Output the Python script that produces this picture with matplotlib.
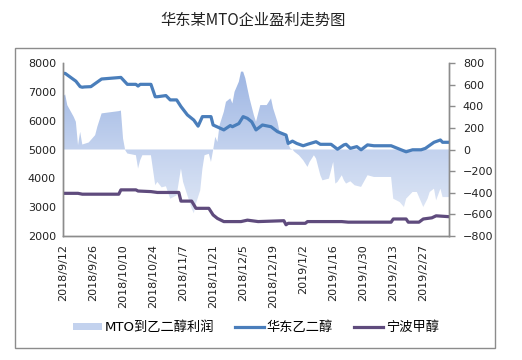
import matplotlib
matplotlib.use("Agg")
import matplotlib.pyplot as plt
import matplotlib.dates as mdates
import numpy as np
import pandas as pd
from matplotlib.patches import Rectangle, Patch
from matplotlib.lines import Line2D

CJK = ["Noto Sans CJK SC", "DejaVu Sans"]
LATIN_FIRST = ["DejaVu Sans", "Noto Sans CJK SC"]

# MTO到乙二醇利润 (right axis, 元/吨)
profit_dates = [
    "2018-09-12", "2018-09-13", "2018-09-14", "2018-09-17", "2018-09-18", "2018-09-19",
    "2018-09-20", "2018-09-21", "2018-09-24", "2018-09-27", "2018-09-28", "2018-09-30",
    "2018-10-08", "2018-10-09", "2018-10-10", "2018-10-11", "2018-10-12", "2018-10-16",
    "2018-10-17", "2018-10-18", "2018-10-19", "2018-10-23", "2018-10-25", "2018-10-26",
    "2018-10-28", "2018-10-30", "2018-11-01", "2018-11-04", "2018-11-06", "2018-11-07",
    "2018-11-09", "2018-11-11", "2018-11-12", "2018-11-13", "2018-11-15", "2018-11-16",
    "2018-11-17", "2018-11-19", "2018-11-20", "2018-11-21", "2018-11-22", "2018-11-23",
    "2018-11-24", "2018-11-26", "2018-11-27", "2018-11-29", "2018-11-30", "2018-12-01",
    "2018-12-03", "2018-12-04", "2018-12-05", "2018-12-06", "2018-12-07", "2018-12-08",
    "2018-12-10", "2018-12-11", "2018-12-12", "2018-12-13", "2018-12-16", "2018-12-18",
    "2018-12-19", "2018-12-21", "2018-12-22", "2018-12-24", "2018-12-26", "2018-12-27",
    "2018-12-28", "2018-12-29", "2018-12-31", "2019-01-02", "2019-01-04", "2019-01-05",
    "2019-01-07", "2019-01-08", "2019-01-10", "2019-01-11", "2019-01-14", "2019-01-15",
    "2019-01-16", "2019-01-17", "2019-01-18", "2019-01-20", "2019-01-21", "2019-01-22",
    "2019-01-24", "2019-01-26", "2019-01-29", "2019-02-01", "2019-02-04", "2019-02-12",
    "2019-02-13", "2019-02-16", "2019-02-18", "2019-02-19", "2019-02-22", "2019-02-24",
    "2019-02-27", "2019-03-01", "2019-03-02", "2019-03-04", "2019-03-05", "2019-03-07",
    "2019-03-08", "2019-03-11",
]
profit = [
    488, 510, 410, 302, 256, 40,
    163, 46, 65, 133, 210, 334,
    355, 360, 102, -6, -37, -53,
    -176, -99, -53, -53, -330, -300,
    -350, -340, -455, -424, -176, -300,
    -424, -547, -590, -500, -377, -180,
    -53, -40, -115, -6, 117, 70,
    225, 349, 441, 473, 426, 534,
    627, 720, 720, 660, 565, 473,
    318, 256, 334, 411, 411, 473,
    380, 256, 163, 133, 56, 9,
    0, -22, -53, -99, -161, -115,
    -53, -84, -238, -285, -269, -192,
    -115, -315, -300, -238, -285, -315,
    -294, -331, -346, -238, -254, -254,
    -455, -486, -532, -455, -393, -393,
    -532, -455, -393, -362, -470, -362,
    -440, -440,
]

# 华东乙二醇 (left axis)
eg_dates = [
    "2018-09-12", "2018-09-13", "2018-09-18", "2018-09-20", "2018-09-21", "2018-09-22",
    "2018-09-25", "2018-09-30", "2018-10-09", "2018-10-12", "2018-10-16", "2018-10-17",
    "2018-10-18", "2018-10-23", "2018-10-25", "2018-10-26", "2018-10-30", "2018-11-01",
    "2018-11-04", "2018-11-06", "2018-11-09", "2018-11-12", "2018-11-14", "2018-11-16",
    "2018-11-20", "2018-11-21", "2018-11-26", "2018-11-29", "2018-11-30", "2018-12-03",
    "2018-12-05", "2018-12-07", "2018-12-09", "2018-12-11", "2018-12-14", "2018-12-18",
    "2018-12-21", "2018-12-25", "2018-12-26", "2018-12-28", "2018-12-30", "2019-01-02",
    "2019-01-04", "2019-01-08", "2019-01-10", "2019-01-15", "2019-01-18", "2019-01-21",
    "2019-01-22", "2019-01-24", "2019-01-27", "2019-01-29", "2019-02-01", "2019-02-04",
    "2019-02-12", "2019-02-15", "2019-02-19", "2019-02-22", "2019-02-26", "2019-02-28",
    "2019-03-04", "2019-03-07", "2019-03-08", "2019-03-11",
]
eg = [
    7640, 7640, 7370, 7180, 7160, 7170,
    7180, 7445, 7500, 7260, 7260, 7200,
    7260, 7260, 6830, 6830, 6870, 6720,
    6720, 6490, 6200, 6020, 5810, 6140,
    6140, 5850, 5680, 5830, 5790, 5900,
    6140, 6080, 5960, 5680, 5850, 5790,
    5620, 5500, 5210, 5290, 5210, 5130,
    5180, 5270, 5180, 5180, 5010, 5160,
    5180, 5040, 5100, 4990, 5160, 5130,
    5130, 5040, 4920, 4990, 4990, 5040,
    5250, 5330, 5250, 5250,
]

# 宁波甲醇 (left axis)
meoh_dates = [
    "2018-09-12", "2018-09-19", "2018-09-21", "2018-10-08", "2018-10-09", "2018-10-16",
    "2018-10-17", "2018-10-23", "2018-10-26", "2018-11-05", "2018-11-06", "2018-11-11",
    "2018-11-13", "2018-11-19", "2018-11-21", "2018-11-23", "2018-11-26", "2018-12-04",
    "2018-12-07", "2018-12-12", "2018-12-24", "2018-12-25", "2018-12-26", "2019-01-03",
    "2019-01-04", "2019-01-20", "2019-01-23", "2019-02-12", "2019-02-13", "2019-02-19",
    "2019-02-20", "2019-02-25", "2019-02-27", "2019-03-03", "2019-03-05", "2019-03-11",
]
meoh = [
    3480, 3480, 3450, 3450, 3600, 3600,
    3560, 3540, 3510, 3510, 3210, 3210,
    2960, 2960, 2730, 2610, 2500, 2500,
    2550, 2500, 2530, 2390, 2440, 2440,
    2500, 2500, 2480, 2480, 2590, 2590,
    2480, 2480, 2590, 2630, 2700, 2670,
]

tick_dates = pd.date_range("2018-09-12", "2019-02-27", freq="14D")
x_start, x_end = pd.Timestamp("2018-09-12"), pd.Timestamp("2019-03-11")

EG_COLOR = "#4a7ebb"
MEOH_COLOR = "#5f4b7d"
GRID_GRAY = "#8c8c8c"

fig = plt.figure(figsize=(5.22, 3.6), dpi=100)
fig.patches.append(Rectangle((15 / 522, 12 / 360), 480 / 522, 300 / 360,
                             transform=fig.transFigure, fill=False,
                             edgecolor=GRID_GRAY, linewidth=1.0))
fig.text(0.485, 0.945, "华东某MTO企业盈利走势图", ha="center", va="center",
         fontsize=11, family=CJK, color="#222222")

ax = fig.add_axes([63 / 522, 1 - 236 / 360, 386 / 522, 173 / 360])
ax2 = ax.twinx()
ax.set_zorder(ax2.get_zorder() + 1)
ax.patch.set_visible(False)

# profit area with a vertical gradient
px = mdates.date2num(pd.to_datetime(profit_dates))
py = np.asarray(profit, dtype=float)
area = ax2.fill_between(px, 0, py, facecolor="none", edgecolor="none")
grad = np.linspace(0, 1, 256).reshape(-1, 1)
cmap = matplotlib.colors.LinearSegmentedColormap.from_list(
    "fillgrad", ["#e8eef8", "#c3d2ee", "#9ab3e2"])
x0n, x1n = mdates.date2num(x_start), mdates.date2num(x_end)
img = ax2.imshow(grad, cmap=cmap, aspect="auto", origin="lower",
                 extent=[x0n, x1n, -800, 800], zorder=1)
img.set_clip_path(area.get_paths()[0], transform=ax2.transData)

ax.plot(pd.to_datetime(eg_dates), eg, color=EG_COLOR, lw=2.3, solid_joinstyle="round")
ax.plot(pd.to_datetime(meoh_dates), meoh, color=MEOH_COLOR, lw=2.3, solid_joinstyle="round")

ax.set_xlim(x_start, x_end)
ax.set_ylim(2000, 8000)
ax.set_yticks(range(2000, 8001, 1000))
ax2.set_ylim(-800, 800)
ax2.set_yticks(range(-800, 801, 200))
ax2.set_xlim(x0n, x1n)

ax.set_xticks(tick_dates)
ax.set_xticklabels([f"{d.year}/{d.month}/{d.day}" for d in tick_dates],
                   rotation=90, fontsize=8, color="#222222")
ax.tick_params(axis="x", length=0, pad=6)
ax.tick_params(axis="y", length=0, pad=5, labelsize=8, labelcolor="#222222")
ax2.tick_params(axis="y", length=4, width=1, color=GRID_GRAY, pad=6,
                labelsize=8, labelcolor="#222222")

for a in (ax, ax2):
    a.spines["top"].set_visible(False)
    for s in ("left", "right", "bottom"):
        a.spines[s].set_color(GRID_GRAY)
        a.spines[s].set_linewidth(1.0)

handles = [
    Patch(facecolor="#c3d2ee", edgecolor="none"),
    Line2D([], [], color=EG_COLOR, lw=2.3),
    Line2D([], [], color=MEOH_COLOR, lw=2.3),
]
labels = ["MTO到乙二醇利润", "华东乙二醇", "宁波甲醇"]
fig.legend(handles, labels, loc="center", bbox_to_anchor=(0.49, 0.09), ncol=3,
           frameon=False, handlelength=2.2, handleheight=0.45, columnspacing=1.6,
           handletextpad=0.2, prop={"family": LATIN_FIRST, "size": 9.5})

fig.savefig("out.png", dpi=100)
